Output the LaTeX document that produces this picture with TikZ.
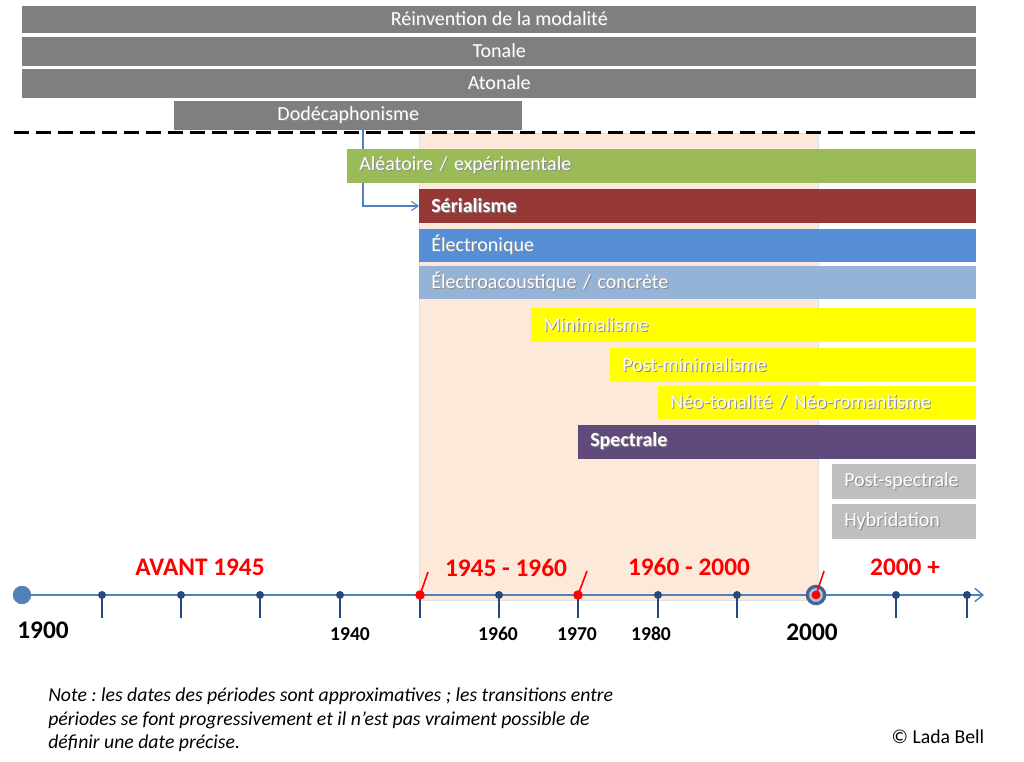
\documentclass[tikz,border=0pt]{standalone}
\usepackage{fontspec}
\setmainfont{Carlito}
\frenchspacing
\usetikzlibrary{arrows.meta, positioning, calc}
\definecolor{grisBande}{RGB}{127,127,127}
\definecolor{vertAlea}{RGB}{155,187,89}
\definecolor{rougeSerie}{RGB}{149,55,53}
\definecolor{bleuElec}{RGB}{85,142,213}
\definecolor{bleuAcou}{RGB}{149,179,215}
\definecolor{jauneMini}{RGB}{255,255,0}
\definecolor{violetSpec}{RGB}{96,74,123}
\definecolor{grisClair}{RGB}{191,191,191}
\definecolor{peche}{RGB}{253,233,217}
\definecolor{bleuAxe}{RGB}{79,129,189}
\definecolor{bleuFonce}{RGB}{36,74,124}
\newcommand{\ombre}[1]{\mbox{\rlap{\hspace{0.8pt}\raisebox{-0.8pt}{\color{black!45}#1}}#1}}
\tikzset{
    bande/.style={anchor=west, inner ysep=0pt, inner xsep=9pt, text=white, align=left,
        font=\fontsize{15}{17}\selectfont},
    bandec/.style={anchor=west, inner sep=0pt, text=white, fill=grisBande, align=center,
        font=\fontsize{15}{17}\selectfont},
    periode/.style={text=red, font=\fontsize{19}{21}\selectfont\bfseries},
    annee/.style={font=\fontsize{14.7}{16}\selectfont\bfseries},
    grandeannee/.style={font=\fontsize{19}{21}\selectfont\bfseries},
    marque/.style={red, line width=1.2pt}
}

\begin{document}
\begin{tikzpicture}[x=0.75pt, y=-0.75pt]
\useasboundingbox (0,0) rectangle (1024,762);

% Zone 1945 - 2000
\fill[peche, draw=black!12] (419,133) rectangle (818,600);

% Bandes du haut
\node[bandec, minimum width=715.5pt, minimum height=20.25pt] (reinvention) at (22,19.5) {\ombre{Réinvention de la modalité}};
\node[bandec, minimum width=715.5pt, minimum height=21.75pt] (tonale) at (22,51.5) {\ombre{Tonale}};
\node[bandec, minimum width=715.5pt, minimum height=21.75pt] (atonale) at (22,83.5) {\ombre{Atonale}};
\node[bandec, minimum width=261pt, minimum height=21.75pt] (dodeca) at (174,115.5) {\ombre{Dodécaphonisme}};
\draw[line width=2.25pt, dash pattern=on 11pt off 5.5pt] (14,133) -- (976,133);

% Courants
\node[bande, fill=rougeSerie, text width=399.75pt, minimum height=25.5pt, font=\fontsize{15}{17}\selectfont\bfseries] (serie) at (419,206) {\ombre{Sérialisme}};
\coordinate (coude) at (363,0);
\draw[bleuAxe, line width=0.8pt, -{Straight Barb[length=5pt, width=7pt]}] (dodeca.south -| coude) |- (serie.west);
\node[bande, fill=vertAlea, text width=453.75pt, minimum height=25.5pt] (aleatoire) at (347,166) {\ombre{Aléatoire / expérimentale}};
\node[bande, fill=bleuElec, text width=399.75pt, minimum height=24.75pt] (electro) at (419,245.5) {\ombre{Électronique}};
\node[bande, fill=bleuAcou, text width=399.75pt, minimum height=24.75pt] (acous) at (419,282.5) {\ombre{Électroacoustique / concrète}};
\node[bande, fill=jauneMini, text width=315.75pt, minimum height=25.5pt] (mini) at (531,325) {\ombre{Minimalisme}};
\node[bande, fill=jauneMini, text width=256.5pt, minimum height=25.5pt] (postmini) at (610,365) {\ombre{Post-minimalisme}};
\node[bande, fill=jauneMini, text width=220.5pt, minimum height=24.75pt] (neo) at (658,402.5) {\ombre{Néo-tonalité / Néo-romantisme}};
\node[bande, fill=violetSpec, text width=280.5pt, minimum height=25.5pt, font=\fontsize{15}{17}\selectfont\bfseries] (spectrale) at (578,442) {\ombre{Spectrale}};
\node[bande, fill=grisClair, text width=90pt, minimum height=26.25pt] (postspec) at (832,481.5) {\ombre{Post-spectrale}};
\node[bande, fill=grisClair, text width=90pt, minimum height=26.25pt] (hybride) at (832,521.5) {\ombre{Hybridation}};

% Axe du temps
\node[circle, fill=bleuAxe, draw=bleuFonce!70, line width=0.8pt, minimum size=13pt, inner sep=0pt] (t1900) at (22,595) {};
\node[circle, fill=bleuAxe!50, draw=bleuFonce!85, line width=2.4pt, minimum size=13pt, inner sep=0pt] (t2000) at (816,595) {};
\coordinate (fin) at (984,595);
\draw[bleuAxe, line width=1.1pt] (t1900) -- (t2000);
\draw[bleuAxe, line width=1.1pt, -{Straight Barb[length=6pt, width=10pt]}] (t2000) -- (fin);
\foreach \x in {102,181,260,340,420,499,578,658,737,896,967} {
    \draw[bleuFonce, line width=1pt] (\x,595) -- (\x,618);
    \fill[bleuFonce] (\x,595) circle (3pt);
}
\fill[red] (420,595) circle (3.6pt);
\fill[red] (578,595) circle (3.6pt);
\fill[red] (816,595) circle (3.3pt);
\draw[marque] (420,595) -- (428,572);
\draw[marque] (578,595) -- (587,571);
\draw[marque] (816,595) -- (824,571);

% Periodes
\node[periode] (avant) at (200,567) {AVANT 1945};
\node[periode] (apres45) at (506,568) {1945 - 1960};
\node[periode] (apres60) at (689,567) {1960 - 2000};
\node[periode] (apres00) at (905,567) {2000 +};

% Annees
\node[grandeannee] (a1900) at (43,630) {1900};
\node[grandeannee] (a2000) at (812,632) {2000};
\foreach \x/\an in {350/1940, 498/1960, 577/1970, 651/1980}
    \node[annee] at (\x,634) {\an};

% Note
\node[anchor=west, inner sep=0pt, align=left, font=\fontsize{14.8}{17.6}\selectfont\itshape] (note) at (48,720)
    {Note : les dates des périodes sont approximatives ; les transitions entre\\
     périodes se font progressivement et il n’est pas vraiment possible de\\
     définir une date précise.};
\node[font=\fontsize{14.8}{16}\selectfont] (credit) at (938,737) {© Lada Bell};
\end{tikzpicture}
\end{document}
